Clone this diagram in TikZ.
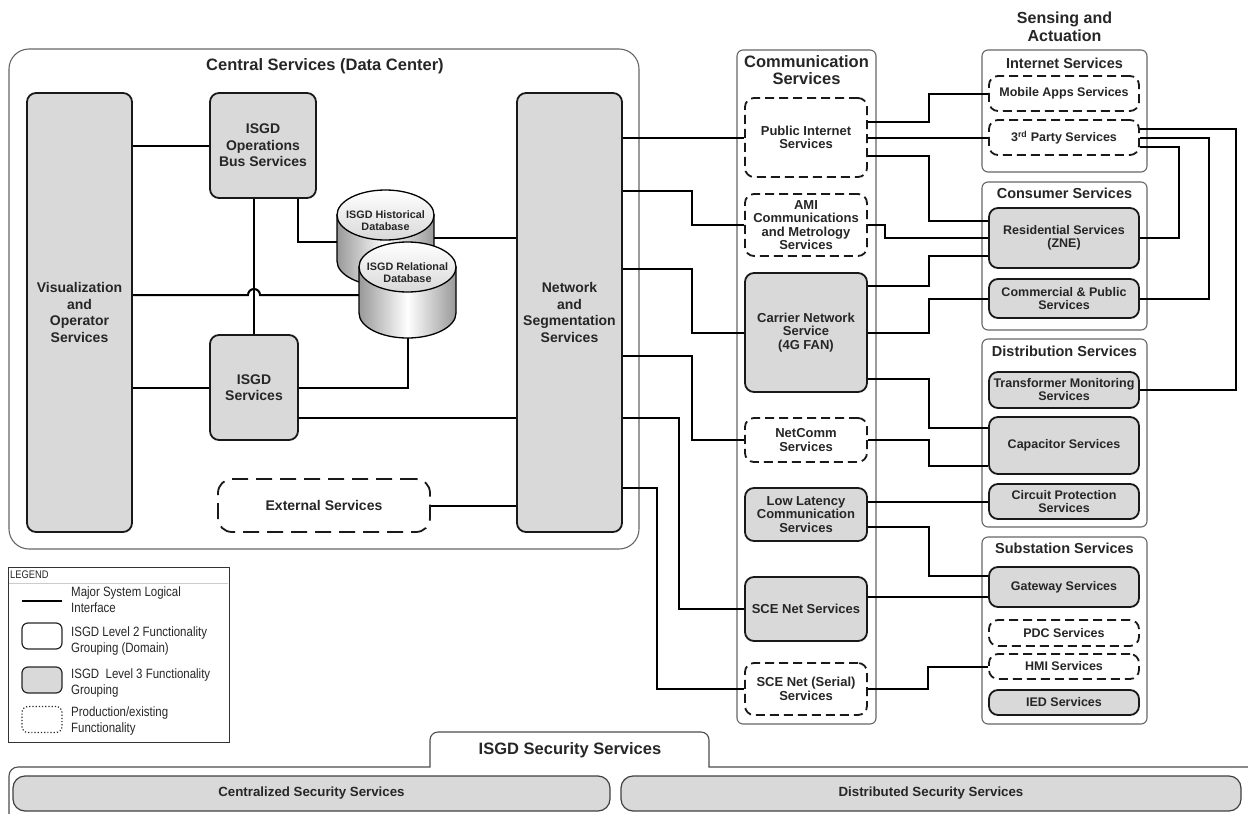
\documentclass[tikz,border=0pt]{standalone}
\usepackage{fontspec}
\setmainfont{Liberation Sans}
\newfontfamily\narrowfont{Liberation Sans}[FakeStretch=0.85]
\definecolor{boxgray}{RGB}{217,217,217}
\definecolor{inkgray}{RGB}{38,38,38}

\begin{document}
\begin{tikzpicture}[x=1pt,y=-1pt,
    wire/.style={line width=2pt},
    group/.style={draw=black!60,line width=1.1pt,rounded corners=6pt,inner sep=0pt},
    gray box/.style={draw=black!90,line width=1.8pt,fill=boxgray,rounded corners=9pt,
                     align=center,text=inkgray,inner sep=0pt},
    dash box/.style={gray box,fill=white,dash pattern=on 9pt off 5pt},
    big text/.style={font=\bfseries\fontsize{14}{16.5}\selectfont},
    comm text/.style={font=\bfseries\fontsize{13}{13.5}\selectfont},
    sense text/.style={font=\bfseries\fontsize{12.5}{13}\selectfont},
    group title/.style={font=\bfseries\fontsize{14.5}{16}\selectfont,text=inkgray,align=center},
    db text/.style={font=\bfseries\fontsize{10.8}{12}\selectfont,text=inkgray,align=center},
    legend text/.style={font=\narrowfont\fontsize{13.5}{16}\selectfont,text=inkgray,
                        align=left,anchor=west,inner sep=0pt},
    legend swatch/.style={draw=black!85,line width=1.2pt,rounded corners=6pt,
                          minimum width=40pt,minimum height=26pt,inner sep=0pt},
    bar/.style={draw=black!75,line width=1.2pt,fill=boxgray,rounded corners=12pt,
                minimum height=35pt,font=\bfseries\fontsize{13.3}{15}\selectfont,text=inkgray},
    dbdrum/.pic={
      \draw[line width=1.3pt,left color=black!40,right color=black!40,middle color=white]
        (-48.5,-23) -- (-48.5,23)
        arc[start angle=180,end angle=360,x radius=48.5pt,y radius=25pt] -- (48.5,-23) -- cycle;
      \draw[line width=1.3pt,top color=white,bottom color=black!15]
        (0,-23) ellipse[x radius=48.5pt,y radius=25pt];
      \node[minimum width=97pt,minimum height=96pt,inner sep=0pt] (-box) at (0,0) {};
      \node[db text] (-t) at (0,-17) {#1};
    }]
  \useasboundingbox (0,0) rectangle (1248,814);

  % groups
  \node[group,minimum width=630pt,minimum height=500pt,rounded corners=20pt] (central) at (324,299) {};
  \node[group title,font=\bfseries\fontsize{16.5}{18}\selectfont] (centraltitle) at (325,66) {Central Services (Data Center)};
  \node[group,minimum width=139pt,minimum height=674pt] (comm) at (806.5,387) {};
  \node[group title,font=\bfseries\fontsize{16.5}{16.5}\selectfont] (commtitle) at (806.5,70) {Communication\\Services};
  \node[group title,font=\bfseries\fontsize{16}{18}\selectfont] (sensing) at (1064.5,27) {Sensing and\\Actuation};
  \node[group,minimum width=165pt,minimum height=122pt] (inet) at (1064.5,111) {};
  \node[group title] (inettitle) at (1064.5,63) {Internet Services};
  \node[group,minimum width=165pt,minimum height=148pt] (cons) at (1064.5,256) {};
  \node[group title] (constitle) at (1064.5,193) {Consumer Services};
  \node[group,minimum width=165pt,minimum height=188pt] (dist) at (1064.5,433) {};
  \node[group title] (disttitle) at (1064.5,351) {Distribution Services};
  \node[group,minimum width=165pt,minimum height=187pt] (sub) at (1064.5,630.5) {};
  \node[group title] (subtitle) at (1064.5,548) {Substation Services};

  % central services
  \node[gray box,big text,minimum width=105pt,minimum height=439pt] (viz) at (79.5,312.5) {Visualization\\and\\Operator\\Services};
  \node[gray box,big text,minimum width=106pt,minimum height=105pt] (ops) at (263,145.5) {ISGD\\Operations\\Bus Services};
  \node[gray box,big text,minimum width=88pt,minimum height=105pt] (isgd) at (254,387.5) {ISGD\\Services};
  \node[dash box,big text,minimum width=212pt,minimum height=53pt,dash pattern=on 16pt off 8pt,rounded corners=14pt] (ext) at (324,505.5) {External Services};
  \node[gray box,big text,minimum width=105pt,minimum height=439pt] (net) at (569.5,312.5) {Network\\and\\Segmentation\\Services};
  \pic (hdb) at (385.5,238) {dbdrum={ISGD Historical\\Database}};
  \pic (rdb) at (407.5,290) {dbdrum={ISGD Relational\\Database}};

  % communication services
  \node[dash box,comm text,minimum width=122pt,minimum height=79pt] (pub) at (806,137.5) {Public Internet\\Services};
  \node[dash box,comm text,minimum width=122pt,minimum height=62pt] (ami) at (806,225) {AMI\\Communications\\and Metrology\\Services};
  \node[gray box,comm text,minimum width=122pt,minimum height=119pt] (car) at (806,332.5) {Carrier Network\\Service\\(4G FAN)};
  \node[dash box,comm text,minimum width=122pt,minimum height=44pt] (ncm) at (806,440) {NetComm\\Services};
  \node[gray box,comm text,minimum width=122pt,minimum height=53pt] (llc) at (806,514.5) {Low Latency\\Communication\\Services};
  \node[gray box,comm text,minimum width=122pt,minimum height=64pt] (sce) at (806,609) {SCE Net Services};
  \node[dash box,comm text,minimum width=122pt,minimum height=52pt] (ser) at (806,689) {SCE Net (Serial)\\Services};

  % sensing and actuation
  \node[dash box,sense text,minimum width=150pt,minimum height=35pt] (mob) at (1064,93.5) {Mobile Apps Services};
  \node[dash box,sense text,minimum width=150pt,minimum height=35pt] (third) at (1064,137.5) {3\textsuperscript{rd} Party Services};
  \node[gray box,sense text,minimum width=150pt,minimum height=60pt] (res) at (1064,238) {Residential Services\\(ZNE)};
  \node[gray box,sense text,minimum width=150pt,minimum height=39pt] (com) at (1064,298.5) {Commercial \& Public\\Services};
  \node[gray box,sense text,minimum width=150pt,minimum height=36pt] (trf) at (1064,390) {Transformer Monitoring\\Services};
  \node[gray box,sense text,minimum width=150pt,minimum height=57pt] (cap) at (1064,445.5) {Capacitor Services};
  \node[gray box,sense text,minimum width=150pt,minimum height=35pt] (cir) at (1064,501.5) {Circuit Protection\\Services};
  \node[gray box,sense text,minimum width=150pt,minimum height=40pt] (gw) at (1064,587) {Gateway Services};
  \node[dash box,sense text,minimum width=150pt,minimum height=26pt] (pdc) at (1064,633) {PDC Services};
  \node[dash box,sense text,minimum width=150pt,minimum height=25pt] (hmi) at (1064,666.5) {HMI Services};
  \node[gray box,sense text,minimum width=150pt,minimum height=25pt] (ied) at (1064,702.5) {IED Services};

  % interfaces
  \draw[wire] (viz.east |- ops.west) -- (ops.west);
  \draw[wire] (viz.east |- isgd.west) -- (isgd.west);
  \draw[wire] (isgd.north) -- (isgd.north |- ops.south);
  \draw[wire] (viz.east |- 0,295) -- (248,295) arc[start angle=180,end angle=0,radius=6pt] -- (rdb-box.west |- 0,295);
  \draw[wire] (ops.south -| 298,0) |- (hdb-box.west |- 0,242);
  \draw[wire] (hdb-box.east) -- (net.west |- hdb-box.east);
  \draw[wire] (rdb-box.south) |- (isgd.east);
  \draw[wire] (isgd.east |- 0,418) -- (net.west |- 0,418);
  \draw[wire] (ext.east) -- (net.west |- ext.east);

  \draw[wire] (net.east |- pub.west) -- (pub.west);
  \draw[wire] (net.east |- 0,191) -- (692,191) |- (ami.west);
  \draw[wire] (net.east |- 0,269) -- (692,269) |- (car.west);
  \draw[wire] (net.east |- 0,356) -- (692,356) |- (ncm.west);
  \draw[wire] (net.east |- 0,418) -- (679,418) |- (sce.west);
  \draw[wire] (net.east |- 0,488) -- (657,488) |- (ser.west);

  \draw[wire] (pub.east |- 0,122) -- (929,122) |- (mob.west);
  \draw[wire] (pub.east |- third.west) -- (third.west);
  \draw[wire] (pub.east |- 0,156) -- (929,156) |- (res.west |- 0,221);
  \draw[wire] (ami.east) -- (885,225) |- (res.west);
  \draw[wire] (car.east |- 0,286) -- (929,286) |- (res.west |- 0,256);
  \draw[wire] (car.east) -- (929,332.5) |- (com.west);
  \draw[wire] (car.east |- 0,379) -- (929,379) |- (cap.west |- 0,428);
  \draw[wire] (ncm.east) -- (929,440) |- (cap.west |- 0,466);
  \draw[wire] (llc.east |- cir.west) -- (cir.west);
  \draw[wire] (llc.east |- 0,527) -- (929,527) |- (gw.west |- 0,576);
  \draw[wire] (sce.east |- 0,597) -- (gw.west |- 0,597);
  \draw[wire] (ser.east) -- (928,689) |- (hmi.west);

  \draw[wire] (third.east |- 0,129) -- (1236,129) |- (trf.east);
  \draw[wire] (third.east |- 0,138) -- (1209,138) |- (com.east);
  \draw[wire] (third.east |- 0,147) -- (1179,147) |- (res.east);

  % legend
  \node[draw=black!80,line width=1pt,minimum width=221pt,minimum height=175pt,inner sep=0pt] (legend) at (118.5,654.5) {};
  \node[anchor=west,inner sep=1pt,font=\narrowfont\fontsize{11}{12}\selectfont,text=inkgray] (legendtitle) at (9,575) {LEGEND};
  \draw[black!20,line width=1pt] (9,583) -- (228,583);
  \draw[wire] (22,601) -- (62,601);
  \node[legend text] (lgline) at (71,600) {Major System Logical\\Interface};
  \node[legend swatch] (lgdomain) at (42,636) {};
  \node[legend text] (lgdomaintext) at (71,641) {ISGD Level 2 Functionality\\Grouping (Domain)};
  \node[legend swatch,fill=boxgray] (lggroup) at (42,680) {};
  \node[legend text] (lggrouptext) at (71,683) {ISGD~ Level 3 Functionality\\Grouping};
  \node[legend swatch,dotted] (lgprod) at (42,719.5) {};
  \node[legend text] (lgprodtext) at (71,721) {Production/existing\\Functionality};

  % security services
  \draw[line width=1.1pt,draw=black!70] (9,814) -- (9,776) arc[start angle=180,end angle=90,radius=9pt]
    -- (430,767) -- (430,740) arc[start angle=180,end angle=90,radius=8pt]
    -- (701,732) arc[start angle=90,end angle=0,radius=8pt] -- (709,767) -- (1248,767);
  \node[font=\bfseries\fontsize{16.5}{18}\selectfont,text=inkgray] (sectitle) at (570,750) {ISGD Security Services};
  \node[bar,minimum width=597pt] (censec) at (311.5,793.5) {Centralized Security Services};
  \node[bar,minimum width=620pt] (distsec) at (931,793.5) {Distributed Security Services};
\end{tikzpicture}
\end{document}
